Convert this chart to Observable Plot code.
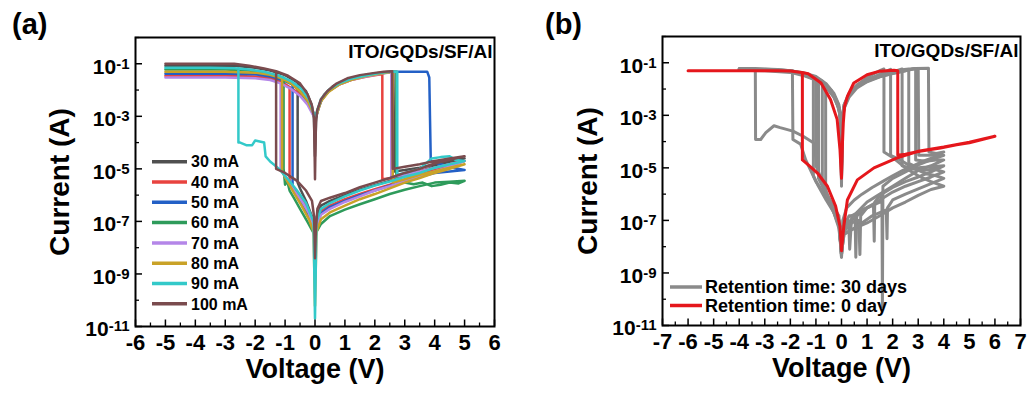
<!DOCTYPE html>
<html><head><meta charset="utf-8">
<script src="https://cdn.jsdelivr.net/npm/d3@7"></script>
<script src="https://cdn.jsdelivr.net/npm/@observablehq/plot@0.6"></script>
<style>
body{margin:0;background:#fff;}
#wrap{position:relative;width:1029px;height:396px;overflow:hidden;background:#fff;font-family:"Liberation Sans",Arial,Helvetica,sans-serif;font-weight:bold;color:#000;}
.pl{position:absolute;top:0;}
.tag{position:absolute;font-size:29px;font-weight:bold;line-height:1;}
#ov{position:absolute;left:0;top:0;pointer-events:none;}
</style></head><body><div id="wrap"></div>
<script>
const FONT = '"Liberation Sans", Arial, Helvetica, sans-serif';

// ---------- shared axis values ----------
const yMajor = [1e-11, 1e-9, 1e-7, 1e-5, 1e-3, 1e-1];
const yMinor = [1e-10, 1e-8, 1e-6, 1e-4, 1e-2, 1];
const xTicksA = [-6, -5, -4, -3, -2, -1, 0, 1, 2, 3, 4, 5, 6];
const xMinorA = [-5.5, -4.5, -3.5, -2.5, -1.5, -0.5, 0.5, 1.5, 2.5, 3.5, 4.5, 5.5];
const xTicksB = [-7, -6, -5, -4, -3, -2, -1, 0, 1, 2, 3, 4, 5, 6, 7];
const xMinorB = [-6.5, -5.5, -4.5, -3.5, -2.5, -1.5, -0.5, 0.5, 1.5, 2.5, 3.5, 4.5, 5.5, 6.5];
const deviceLabel = "ITO/GQDs/SF/Al";

// ---------- panel (a): compliance currents ----------
const labelsA = ["30 mA", "40 mA", "50 mA", "60 mA", "70 mA", "80 mA", "90 mA", "100 mA"];
const colorsA = ["#505050", "#e8433f", "#2360c6", "#2e9b5b", "#b486e8", "#c9a228", "#33c9c9", "#7a4b4e"];

const s30 = [[-5,0.085],[-3,0.085],[-2.6,0.083],[-2,0.07],[-1.5,0.055],[-1,0.037],[-0.6,0.02],[-0.3,0.009],[-0.12,0.003],[-0.04,1e-3],[0,3e-5],[0.04,8e-4],[0.1,2e-3],[0.3,6.5e-3],[0.6,0.014],[1,0.024],[1.5,0.034],[2,0.043],[2.4,0.049],[2.62,0.05],[2.65,8e-6],[3,9e-6],[3.5,1.1e-5],[4,1.5e-5],[4.5,2e-5],[5,2.5e-5],[4.5,1.7e-5],[4,1.2e-5],[3.5,8e-6],[3,5.5e-6],[2.5,3.5e-6],[2,2.4e-6],[1.5,1.6e-6],[1,1e-6],[0.5,6e-7],[0.2,4e-7],[0.06,1.5e-7],[0.02,3e-8],[0,5e-9],[-0.03,5e-8],[-0.1,1.5e-7],[-0.3,6e-7],[-0.5,1.8e-6],[-0.58,3e-6],[-0.58,0.02]];
const s40 = [[-5,0.035],[-3,0.035],[-2,0.033],[-1.5,0.028],[-1.1,0.02],[-0.85,0.013],[-0.5,0.007],[-0.25,0.0035],[-0.08,0.0015],[0,1e-3],[0.08,1.5e-3],[0.2,4e-3],[0.45,9e-3],[0.8,0.016],[1.2,0.024],[1.7,0.032],[2.1,0.038],[2.25,0.04],[2.25,4e-6],[2.6,4.5e-6],[3,6e-6],[3.5,8e-6],[4,1.1e-5],[4.5,1.5e-5],[5,2e-5],[4.5,1.3e-5],[4,9e-6],[3.5,6e-6],[3,4e-6],[2.5,2.5e-6],[2,1.7e-6],[1.5,1.1e-6],[1,7e-7],[0.5,4e-7],[0.2,2.5e-7],[0.05,8e-8],[0,3e-8],[-0.05,8e-8],[-0.2,2.5e-7],[-0.4,6e-7],[-0.6,1.3e-6],[-0.85,3e-6],[-0.85,0.013]];
const s50 = [[-5,0.042],[-3,0.042],[-2,0.04],[-1.5,0.033],[-1,0.022],[-0.75,0.016],[-0.45,0.008],[-0.2,0.003],[-0.06,1.2e-3],[0,8e-4],[0.06,1.2e-3],[0.2,4e-3],[0.45,9e-3],[0.8,0.017],[1.2,0.025],[1.7,0.035],[2.2,0.044],[2.6,0.05],[3.75,0.05],[3.82,0.03],[3.87,2e-5],[4.2,1.5e-5],[4.6,1.1e-5],[5,9e-6],[4.5,8e-6],[4,7e-6],[3.5,5e-6],[3,3.5e-6],[2.5,2.3e-6],[2,1.5e-6],[1.5,1e-6],[1,6e-7],[0.5,3.5e-7],[0.2,2e-7],[0.05,7e-8],[0,3e-8],[-0.05,5e-8],[-0.2,1.5e-7],[-0.4,4e-7],[-0.6,1e-6],[-0.75,2e-6],[-0.75,0.016]];
const s60 = [[-5,0.06],[-3,0.06],[-2.2,0.055],[-1.6,0.042],[-1.2,0.03],[-0.8,0.018],[-0.45,0.008],[-0.2,0.003],[-0.06,1.2e-3],[0,9e-4],[0.06,1.3e-3],[0.2,4e-3],[0.45,9e-3],[0.8,0.017],[1.2,0.025],[1.7,0.035],[2.2,0.044],[2.6,0.05],[2.72,0.05],[2.72,4e-6],[3,3e-6],[3.3,2.6e-6],[3.6,3e-6],[3.9,2.2e-6],[4.2,2.5e-6],[4.5,3e-6],[4.8,2.8e-6],[5,3.5e-6],[4.5,3.2e-6],[4,3e-6],[3.5,2.2e-6],[3,1.6e-6],[2.5,1.1e-6],[2,7e-7],[1.5,4.5e-7],[1,2.8e-7],[0.5,1.6e-7],[0.2,8e-8],[0.05,4e-8],[0,2e-8],[-0.04,3.5e-8],[-0.26,1e-7],[-0.5,3e-7],[-0.71,8e-7],[-0.85,1.5e-6],[-0.93,3.5e-6],[-1.0,2.5e-6],[-1.05,1e-5],[-1.05,0.03]];
const s70 = [[-5,0.03],[-3,0.03],[-2,0.028],[-1.5,0.024],[-1.15,0.018],[-0.8,0.011],[-0.5,0.006],[-0.25,0.0028],[-0.08,1.2e-3],[0,9e-4],[0.08,1.4e-3],[0.2,4e-3],[0.45,9e-3],[0.8,0.016],[1.2,0.024],[1.7,0.033],[2.2,0.042],[2.55,0.048],[2.55,5e-6],[3,6e-6],[3.5,8e-6],[4,1.1e-5],[4.5,1.5e-5],[5,2e-5],[4.5,1.2e-5],[4,8e-6],[3.5,5e-6],[3,3.5e-6],[2.5,2.2e-6],[2,1.5e-6],[1.5,9e-7],[1,5.5e-7],[0.5,3e-7],[0.2,1.8e-7],[0.05,6e-8],[0,1e-8],[-0.05,6e-8],[-0.2,2e-7],[-0.4,5e-7],[-0.7,1.5e-6],[-0.95,4e-6],[-1.15,1e-5],[-1.15,0.018]];
const s80 = [[-5,0.05],[-3,0.05],[-2,0.046],[-1.5,0.038],[-1.1,0.028],[-0.8,0.018],[-0.5,0.009],[-0.25,0.004],[-0.08,1.5e-3],[0,1e-3],[0.08,1.4e-3],[0.2,3.8e-3],[0.45,8.5e-3],[0.8,0.016],[1.2,0.024],[1.7,0.034],[2.2,0.043],[2.6,0.05],[2.6,3e-6],[3,4e-6],[3.5,6e-6],[4,8e-6],[4.5,1.1e-5],[5,1.5e-5],[4.5,1e-5],[4,7e-6],[3.5,4.5e-6],[3,3e-6],[2.5,1.8e-6],[2,1.1e-6],[1.5,7e-7],[1,4e-7],[0.5,2.2e-7],[0.2,1.2e-7],[0.05,4e-8],[0,6e-11],[-0.05,4e-8],[-0.2,1.2e-7],[-0.45,4e-7],[-0.7,1.2e-6],[-0.9,3e-6],[-1.1,8e-6],[-1.1,0.028]];
const s90 = [[-5,0.07],[-3.5,0.07],[-2.7,0.068],[-2.2,0.06],[-1.7,0.05],[-1.2,0.035],[-0.8,0.022],[-0.45,0.011],[-0.2,0.0045],[-0.06,1.5e-3],[0,1e-3],[0.06,1.5e-3],[0.2,4.5e-3],[0.45,0.01],[0.8,0.018],[1.2,0.027],[1.7,0.036],[2.2,0.045],[2.5,0.05],[2.75,0.05],[2.75,6e-6],[3,7e-6],[3.5,1e-5],[3.9,2.5e-5],[4.2,2.8e-5],[4.5,3e-5],[4.7,2.2e-5],[5,2e-5],[4.5,1.5e-5],[4,1.1e-5],[3.5,7e-6],[3,5e-6],[2.5,3.3e-6],[2,2.3e-6],[1.5,1.5e-6],[1,9e-7],[0.5,5e-7],[0.2,3e-7],[0.05,1e-7],[0,2e-11],[-0.05,1e-7],[-0.3,5e-7],[-0.6,1.5e-6],[-0.9,4e-6],[-1.2,1e-5],[-1.5,1.9e-5],[-1.65,3e-5],[-1.7,1e-4],[-2.0,1.2e-4],[-2.1,8e-5],[-2.3,8e-5],[-2.5,1e-4],[-2.56,1e-4],[-2.56,0.068]];
const s100 = [[-5,0.1],[-3,0.1],[-2.7,0.1],[-2.2,0.085],[-1.7,0.066],[-1.3,0.052],[-0.9,0.035],[-0.5,0.018],[-0.25,0.007],[-0.1,0.0025],[-0.03,8e-4],[0,4e-6],[0.03,6e-4],[0.07,1.6e-3],[0.2,4.5e-3],[0.41,9e-3],[0.7,0.017],[1.08,0.028],[1.5,0.037],[2,0.045],[2.3,0.05],[2.58,0.052],[2.6,1e-5],[3,1.2e-5],[3.5,1.5e-5],[4,2e-5],[4.5,2.5e-5],[5,3e-5],[4.5,2.2e-5],[4,1.6e-5],[3.5,1e-5],[3,7e-6],[2.5,4.5e-6],[2,3e-6],[1.5,2e-6],[1,1.2e-6],[0.5,8e-7],[0.2,6e-7],[0.08,3e-7],[0.03,5e-8],[0,4e-9],[-0.03,1.5e-7],[-0.1,6e-7],[-0.3,1.5e-6],[-0.6,3.5e-6],[-1,7e-6],[-1.3,1e-5],[-1.3,0.052]];
const curvesA = [s30, s40, s50, s60, s70, s80, s90, s100];

// ---------- panel (b): retention ----------
const labelsB = ["Retention time: 30 days", "Retention time: 0 day"];
const colorsB = ["#8a8a8a", "#e5171c"];

const g1 = [[-4,0.06],[-3.4,0.06],[-3,0.058],[-2.5,0.055],[-2,0.05],[-1.5,0.042],[-1,0.03],[-0.6,0.016],[-0.3,0.007],[-0.1,0.0025],[-0.03,8e-4],[0,3e-6],[0.03,8e-4],[0.1,2.5e-3],[0.3,7e-3],[0.6,0.014],[1,0.022],[1.5,0.032],[2,0.042],[2.5,0.052],[2.9,0.06],[3.4,0.062],[3.42,4e-5],[3.7,3.5e-5],[4,4e-5],[3.6,2.5e-5],[3.2,1.8e-5],[2.8,1.2e-5],[2.4,8e-6],[2,5e-6],[1.6,3e-6],[1.2,1.8e-6],[0.8,1e-6],[0.5,6e-7],[0.2,3e-7],[0.05,1e-7],[0,4e-9],[-0.1,1.5e-7],[-0.3,3e-7],[-0.6,1e-6],[-0.9,6e-6],[-1.1,9e-5],[-1.5,1.6e-4],[-1.9,2.5e-4],[-2.4,3.4e-4],[-2.64,4e-4],[-2.96,2.2e-4],[-3.16,1.2e-4],[-3.36,1.2e-4],[-3.37,0.06]];
const g2 = [[-4,0.058],[-3,0.057],[-2.5,0.054],[-2,0.05],[-1.5,0.038],[-1,0.025],[-0.6,0.013],[-0.3,0.006],[-0.1,0.002],[-0.03,6e-4],[0,5e-6],[0.03,6e-4],[0.1,2e-3],[0.3,6e-3],[0.6,0.012],[1,0.02],[1.5,0.03],[2,0.04],[2.5,0.05],[2.8,0.058],[3.0,0.06],[3.02,3e-5],[3.5,3e-5],[4,3e-5],[3.5,2e-5],[3,1.3e-5],[2.5,7e-6],[2,4e-6],[1.62,2e-6],[1.6,5e-11],[1.58,1e-6],[1.5,5e-7],[1,3e-7],[0.6,1.5e-7],[0.3,8e-8],[0.05,3e-8],[0,5e-9],[-0.1,1e-7],[-0.3,2.5e-7],[-0.6,8e-7],[-1,3e-6],[-1.4,2e-5],[-1.6,8e-5],[-1.9,1.2e-4],[-1.92,0.05]];
const g3 = [[-4,0.055],[-3,0.054],[-2,0.048],[-1.5,0.036],[-1.1,0.026],[-0.6,0.012],[-0.3,0.005],[-0.1,0.0018],[-0.03,5e-4],[0,1e-5],[0.03,5e-4],[0.1,1.8e-3],[0.3,5e-3],[0.6,0.011],[1,0.019],[1.5,0.029],[2,0.039],[2.5,0.05],[2.7,0.058],[2.9,0.06],[2.9,2e-5],[3.3,1.8e-5],[3.7,2e-5],[4,2e-5],[3.5,1.2e-5],[3,8e-6],[2.5,4e-6],[2,2e-6],[1.5,1e-6],[1,5e-7],[0.6,2e-7],[0.56,4e-9],[0.53,1.5e-7],[0.3,1.5e-7],[0.05,5e-8],[0,5e-9],[-0.1,8e-8],[-0.3,2e-7],[-0.6,6e-7],[-0.9,2e-6],[-1.1,5e-6],[-1.1,0.026]];
const g4 = [[-4,0.055],[-3,0.053],[-2,0.046],[-1.5,0.035],[-0.9,0.021],[-0.5,0.01],[-0.2,0.0035],[-0.05,1e-3],[0,4e-6],[0.05,1e-3],[0.15,3e-3],[0.4,8e-3],[0.8,0.016],[1.2,0.025],[1.7,0.036],[2.2,0.048],[2.45,0.056],[2.63,0.058],[2.63,1.5e-5],[3,1e-5],[3.5,1.1e-5],[4,1.2e-5],[3.5,7e-6],[3,4.5e-6],[2.5,3e-6],[2,1.8e-6],[1.5,9e-7],[1.3,5e-7],[1.28,1.6e-8],[1.25,4e-7],[0.8,2.5e-7],[0.4,1.5e-7],[0.32,8e-9],[0.28,1e-7],[0.05,4e-8],[0,4e-9],[-0.1,1e-7],[-0.3,2.5e-7],[-0.6,1e-6],[-0.9,4e-6],[-0.9,0.021]];
const g5 = [[-4,0.058],[-3,0.056],[-2,0.05],[-1.5,0.04],[-1,0.028],[-0.75,0.02],[-0.4,0.009],[-0.15,0.003],[-0.03,8e-4],[0,2e-6],[0.03,8e-4],[0.1,2.5e-3],[0.3,6.5e-3],[0.7,0.015],[1.1,0.024],[1.6,0.034],[2.0,0.045],[2.37,0.058],[2.37,1.2e-5],[2.8,9e-6],[3.2,8e-6],[3.6,9e-6],[4,7e-6],[3.5,4.5e-6],[3,3e-6],[2.5,2e-6],[2,1.2e-6],[1.5,6e-7],[1,3e-7],[0.75,1.5e-7],[0.72,5e-9],[0.68,1e-7],[0.4,8e-8],[0.1,4e-8],[0,5e-9],[-0.1,5e-8],[-0.3,2e-7],[-0.55,7e-7],[-0.75,2.5e-6],[-0.75,0.02]];
const g6 = [[-3.8,0.055],[-3,0.054],[-2,0.047],[-1.5,0.037],[-1,0.024],[-0.62,0.014],[-0.3,0.006],[-0.1,0.002],[-0.02,6e-4],[0,8e-6],[0.02,6e-4],[0.1,2.2e-3],[0.3,6e-3],[0.6,0.013],[1,0.022],[1.4,0.033],[1.7,0.045],[1.92,0.056],[1.92,3e-5],[2.3,2e-5],[2.8,1e-5],[3.3,6e-6],[3.7,5e-6],[4,4e-6],[3.5,2.5e-6],[3,1.6e-6],[2.5,1e-6],[2,6e-7],[1.8,3e-7],[1.78,2e-8],[1.75,2.5e-7],[1.2,1.5e-7],[0.8,8e-8],[0.5,5e-8],[0.1,3e-8],[0,6e-9],[-0.1,6e-8],[-0.3,2e-7],[-0.5,6e-7],[-0.62,1.5e-6],[-0.62,0.014]];
const g7 = [[-4,0.052],[-3,0.05],[-2,0.043],[-1.5,0.033],[-1,0.022],[-0.6,0.012],[-0.3,0.005],[-0.1,0.0018],[-0.03,5e-4],[0,1e-5],[0.03,5e-4],[0.1,2e-3],[0.3,6e-3],[0.6,0.014],[1,0.027],[1.3,0.04],[1.5,0.05],[1.66,0.058],[1.66,4e-5],[2,2.5e-5],[2.5,1e-5],[3,5e-6],[3.5,3e-6],[4,2e-6],[3.5,1.5e-6],[3,9e-7],[2.5,5e-7],[2,3e-7],[1.5,1.5e-7],[1,8e-8],[0.5,5e-8],[0.1,3e-8],[0,6e-9],[-0.1,8e-8],[-0.3,3e-7],[-0.6,1.2e-6],[-0.8,4e-6],[-1,1.2e-5],[-1,0.022]];
const red0 = [[-6,0.05],[-4,0.05],[-3,0.05],[-2.5,0.05],[-2,0.049],[-1.55,0.043],[-1.3,0.038],[-0.8,0.017],[-0.43,4e-3],[-0.17,7e-4],[-0.06,5e-5],[0,4e-6],[0.04,1e-4],[0.07,5e-4],[0.12,2.2e-3],[0.23,5.2e-3],[0.48,0.017],[1,0.035],[1.5,0.048],[2.05,0.052],[2.2,0.05],[2.2,3e-5],[2.5,3.3e-5],[3,4.2e-5],[3.87,5.7e-5],[4.5,7.5e-5],[5,9e-5],[5.5,1.2e-4],[6,1.6e-4],[5,9.5e-5],[4,6.2e-5],[3,4.3e-5],[2.18,2.4e-5],[1.27,1e-5],[0.62,3.5e-6],[0.23,6e-7],[0.09,6e-8],[0,7e-9],[-0.06,6e-8],[-0.23,3.5e-7],[-0.55,2e-6],[-0.95,6.5e-6],[-1.3,1.3e-5],[-1.53,2e-5],[-1.53,0.042]];
const curvesB30 = [g1, g2, g3, g4, g5, g6, g7];

// ---------- build ----------
const wrap = document.getElementById("wrap");
const NS = "http://www.w3.org/2000/svg";

function supTicks(svg) {
  svg.querySelectorAll('[aria-label="y-axis tick label"] text').forEach(t => {
    const s = t.textContent;
    const parts = s.split("^");
    if (parts.length !== 2) return;
    t.textContent = parts[0];
    const ts = document.createElementNS(NS, "tspan");
    ts.setAttribute("dy", "-5");
    ts.setAttribute("font-size", "15");
    ts.textContent = parts[1];
    t.appendChild(ts);
  });
}

function makePanel(cfg) {
  const fw = cfg.width - cfg.ml - cfg.mr;
  const fh = 396 - cfg.mt - cfg.mb;
  const rows = [];
  cfg.series.forEach(s => s.data.forEach(([v, c]) => rows.push({V: v, I: c, key: s.key, col: s.color})));
  const p = Plot.plot({
    width: cfg.width, height: 396,
    marginLeft: cfg.ml, marginRight: cfg.mr, marginTop: cfg.mt, marginBottom: cfg.mb,
    style: {fontFamily: FONT, fontWeight: "bold", color: "#000", background: "transparent", overflow: "visible"},
    x: {domain: cfg.xDomain, label: null},
    y: {type: "log", domain: [1e-11, 1], label: null},
    marks: [
      Plot.line(rows, {x: "V", y: "I", z: "key", stroke: "col", strokeWidth: cfg.sw, strokeLinejoin: "round", strokeLinecap: "round"}),
      Plot.tickX(cfg.xMinor, {x: d => d, insetTop: fh - 3.5, stroke: "#000", strokeWidth: 1.3}),
      Plot.tickX(cfg.xTicks, {x: d => d, insetTop: fh - 6.5, stroke: "#000", strokeWidth: 1.5}),
      Plot.tickY(yMinor, {y: d => d, insetRight: fw - 4, stroke: "#000", strokeWidth: 1.3}),
      Plot.tickY(yMajor, {y: d => d, insetRight: fw - 7, stroke: "#000", strokeWidth: 1.5}),
      Plot.frame({stroke: "#000", strokeWidth: 2}),
      Plot.axisX({ticks: cfg.xTicks, label: null, tickSize: 0, tickPadding: 8, fontSize: 22, fontWeight: "bold", tickFormat: d => String(d)}),
      Plot.axisY({ticks: yMajor, label: null, tickSize: 0, tickPadding: 6, dy: 3, fontSize: 21, fontWeight: "bold", tickFormat: d => "10^" + Math.round(Math.log10(d))}),
      Plot.text([deviceLabel], {frameAnchor: "top-right", dx: -2, dy: 7, lineAnchor: "top", fontSize: 19, fontWeight: "bold"}),
      Plot.text(["Voltage (V)"], {frameAnchor: "bottom", dy: 51, fontSize: 27, fontWeight: "bold"}),
      Plot.text(["Current (A)"], {frameAnchor: "left", textAnchor: "middle", dx: cfg.ytDx, rotate: -90, fontSize: 28, fontWeight: "bold"})
    ]
  });
  p.classList.add("pl");
  p.style.left = cfg.left + "px";
  supTicks(p);
  wrap.appendChild(p);
}

makePanel({
  left: 0, width: 510, ml: 135, mr: 16, mt: 37, mb: 70, ytDx: -75,
  xDomain: [-6, 6], xTicks: xTicksA, xMinor: xMinorA, sw: 2.5,
  series: curvesA.map((d, i) => ({key: labelsA[i], color: colorsA[i], data: d}))
});
makePanel({
  left: 510, width: 519, ml: 152, mr: 9, mt: 36, mb: 71, ytDx: -74,
  xDomain: [-7, 7], xTicks: xTicksB, xMinor: xMinorB, sw: 3,
  series: curvesB30.map((d, i) => ({key: "g" + i, color: colorsB[0], data: d}))
    .concat([{key: "red", color: colorsB[1], data: red0}])
});

// panel tags
[["(a)", 12], ["(b)", 545]].forEach(([t, x]) => {
  const d = document.createElement("div");
  d.className = "tag"; d.textContent = t;
  d.style.left = x + "px"; d.style.top = "10px";
  wrap.appendChild(d);
});

// legends (overlay inside plot frames)
const ov = document.createElementNS(NS, "svg");
ov.setAttribute("id", "ov"); ov.setAttribute("width", 1029); ov.setAttribute("height", 396);
function legendRow(x1, x2, tx, cy, color, label, fs) {
  const l = document.createElementNS(NS, "line");
  l.setAttribute("x1", x1); l.setAttribute("x2", x2); l.setAttribute("y1", cy); l.setAttribute("y2", cy);
  l.setAttribute("stroke", color); l.setAttribute("stroke-width", 3.5);
  ov.appendChild(l);
  const t = document.createElementNS(NS, "text");
  t.setAttribute("x", tx); t.setAttribute("y", cy + fs * 0.36);
  t.setAttribute("font-family", FONT); t.setAttribute("font-weight", "bold"); t.setAttribute("font-size", fs);
  t.textContent = label;
  ov.appendChild(t);
}
labelsA.forEach((lab, i) => legendRow(152, 187, 191, 161.7 + i * 20.3, colorsA[i], lab, 16));
labelsB.forEach((lab, i) => legendRow(670, 702, 705, 287 + i * 18.5, colorsB[i], lab, 18));
wrap.appendChild(ov);
</script></body></html>
